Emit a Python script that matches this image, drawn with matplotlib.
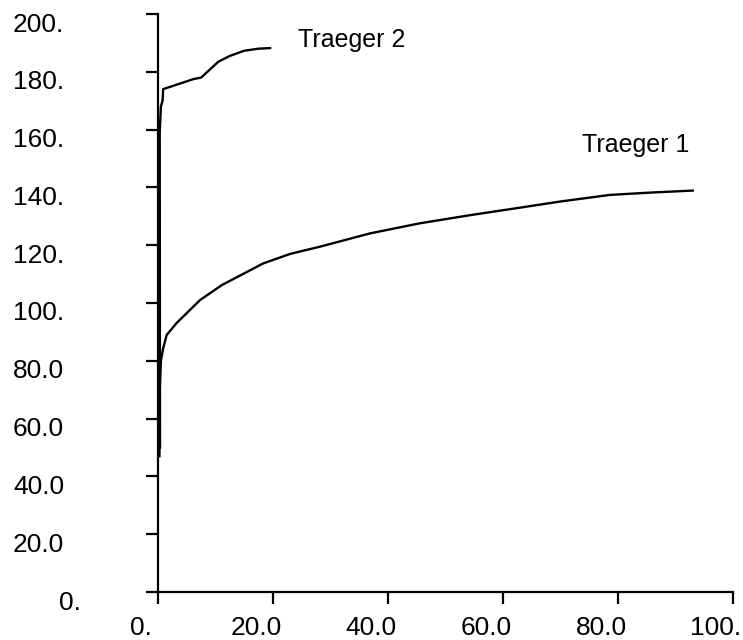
import matplotlib
matplotlib.use('Agg')
import matplotlib.pyplot as plt
import matplotlib.transforms as mtransforms

plt.rcParams['font.family'] = ['Liberation Sans', 'DejaVu Sans']

# Traeger 1 curve
t1_x = [0.25, 0.3, 0.5, 0.9, 1.5, 3.2, 7.3, 11.1, 18.3, 23.0, 28.2, 36.9,
        45.6, 54.3, 63.0, 69.9, 78.6, 85.6, 93.0]
t1_y = [47, 70, 80, 84.3, 88.9, 93.0, 101.0, 106.2, 113.7, 117.0, 119.5, 124.1,
        127.6, 130.4, 133.0, 135.1, 137.4, 138.2, 138.9]

# Traeger 2 curve
t2_x = [0.35, 0.3, 0.5, 0.8, 0.9, 6.2, 7.5, 10.5, 12.5, 15.0, 17.5, 19.5]
t2_y = [50, 159, 168, 170, 174, 177.5, 178, 183.5, 185.5, 187.3, 188.0, 188.2]

xticks = [0, 20, 40, 60, 80, 100]
xlabels = ['0.', '20.0', '40.0', '60.0', '80.0', '100.']
yticks = [0, 20, 40, 60, 80, 100, 120, 140, 160, 180, 200]
ylabels = ['0.', '20.0', '40.0', '60.0', '80.0', '100.', '120.', '140.',
           '160.', '180.', '200.']

fig = plt.figure(figsize=(7.43, 6.4), dpi=100)
ax = fig.add_axes([158 / 743, 48 / 640, 575 / 743, 578 / 640])

ax.plot(t1_x, t1_y, color='black', lw=1.7, clip_on=False)
ax.plot(t2_x, t2_y, color='black', lw=1.7, clip_on=False)

ax.text(24.3, 188.6, 'Traeger 2', fontsize=18, va='baseline', ha='left')
ax.text(73.7, 152.2, 'Traeger 1', fontsize=18, va='baseline', ha='left')

ax.set_xlim(0, 100)
ax.set_ylim(0, 200)
for s in ['top', 'right']:
    ax.spines[s].set_visible(False)
for s in ['left', 'bottom']:
    ax.spines[s].set_linewidth(1.6)

ax.set_xticks(xticks)
ax.set_xticklabels(xlabels, fontsize=19)
ax.set_yticks(yticks)
ax.set_yticklabels(ylabels, fontsize=19, ha='left')
ax.tick_params(axis='both', direction='out', length=8.6, width=1.6)
ax.tick_params(axis='x', pad=9)
ax.tick_params(axis='y', pad=95.8)

# shift labels a little, the way the original sets them
for lab in ax.get_xticklabels():
    off = mtransforms.ScaledTranslation(-17 / 100, 0, fig.dpi_scale_trans)
    lab.set_transform(lab.get_transform() + off)
for lab in ax.get_yticklabels():
    dx = 46 / 100 if lab.get_text() == '0.' else 0
    off = mtransforms.ScaledTranslation(dx, -8 / 100, fig.dpi_scale_trans)
    lab.set_transform(lab.get_transform() + off)

fig.savefig('out.png', dpi=100)
